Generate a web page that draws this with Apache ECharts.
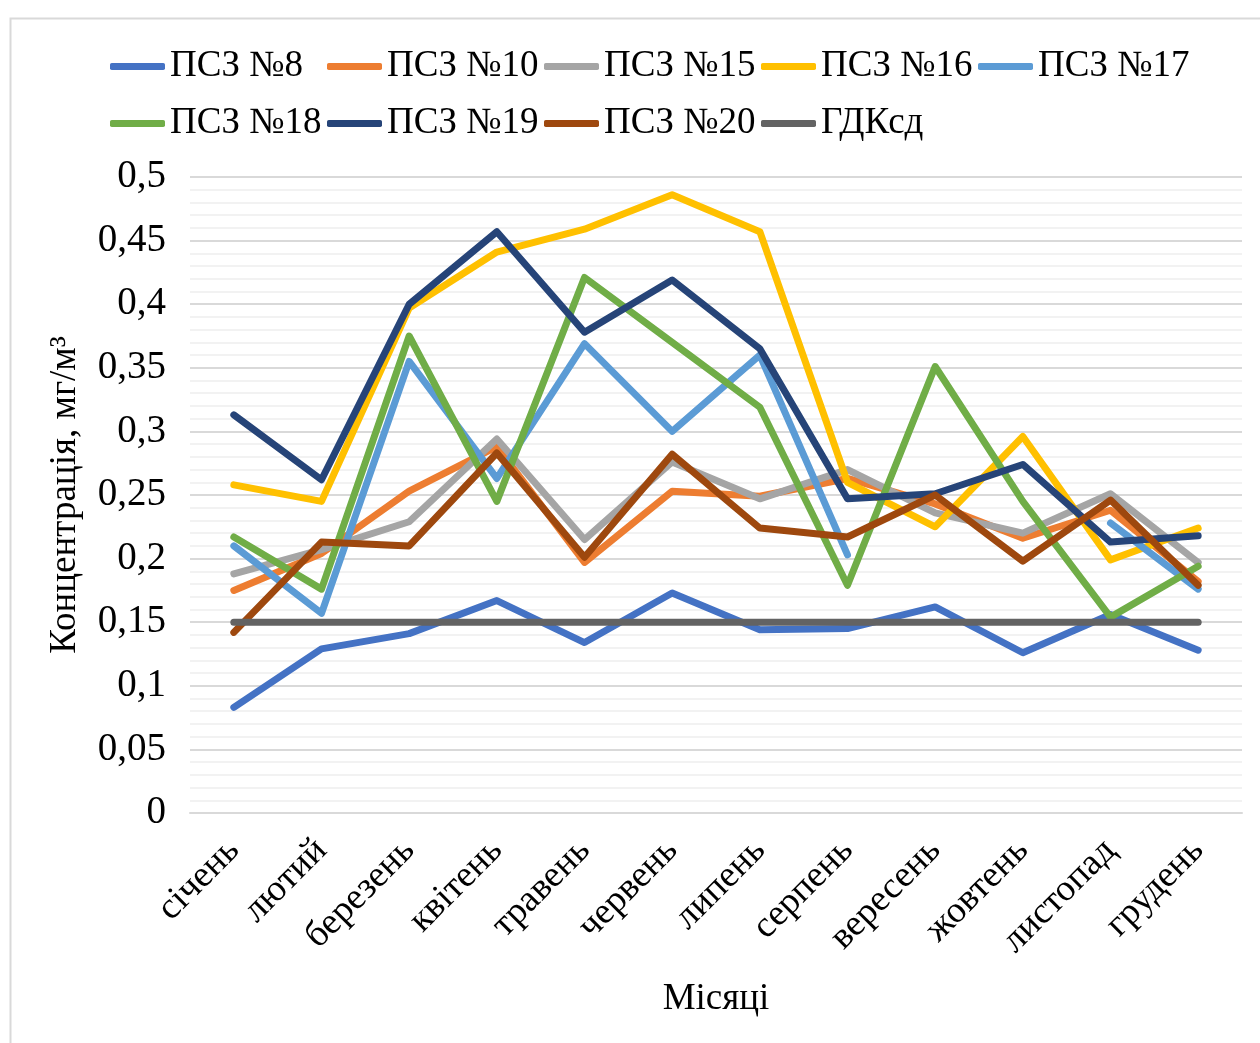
<!DOCTYPE html>
<html>
<head>
<meta charset="utf-8">
<script src="https://cdn.jsdelivr.net/npm/echarts@6/dist/echarts.min.js"></script>
<style>
html,body{margin:0;padding:0;background:#fff;}
#c{width:1260px;height:1043px;}
</style>
</head>
<body>
<div id="c"></div>
<script>
const months = ['січень','лютий','березень','квітень','травень','червень','липень','серпень','вересень','жовтень','листопад','грудень'];
const yTicks = [0,0.05,0.1,0.15,0.2,0.25,0.3,0.35,0.4,0.45,0.5];
const seriesNames = ['ПСЗ №8','ПСЗ №10','ПСЗ №15','ПСЗ №16','ПСЗ №17','ПСЗ №18','ПСЗ №19','ПСЗ №20','ГДКсд'];
const psz8  = [0.083,0.129,0.141,0.167,0.134,0.173,0.144,0.145,0.162,0.126,0.156,0.128];
const psz10 = [0.175,0.204,0.253,0.288,0.197,0.253,0.249,0.263,0.243,0.216,0.238,0.182];
const psz15 = [0.188,0.207,0.229,0.294,0.215,0.276,0.247,0.270,0.236,0.220,0.251,0.197];
const psz16 = [0.258,0.245,0.397,0.441,0.459,0.486,0.457,0.260,0.225,0.296,0.199,0.224];
const psz17 = [0.210,0.157,0.355,0.263,0.369,0.300,0.360,0.203,null,null,0.228,0.176];
const psz18 = [0.217,0.176,0.375,0.245,0.421,0.370,0.319,0.179,0.351,0.245,0.154,0.194];
const psz19 = [0.313,0.262,0.400,0.457,0.378,0.419,0.365,0.247,0.251,0.274,0.213,0.218];
const psz20 = [0.142,0.213,0.210,0.283,0.201,0.282,0.224,0.217,0.250,0.198,0.246,0.179];
const gdk   = [0.15,0.15,0.15,0.15,0.15,0.15,0.15,0.15,0.15,0.15,0.15,0.15];
const seriesData = [psz8,psz10,psz15,psz16,psz17,psz18,psz19,psz20,gdk];
const colors = ['#4472C4','#ED7D31','#A5A5A5','#FFC000','#5B9BD5','#70AD47','#264478','#9E480E','#636363'];

const FONT = '"Liberation Serif","Times New Roman",serif';
const chart = echarts.init(document.getElementById('c'));
const legends = seriesNames.map((n, i) => ({
  data: [n],
  left: 105 + (i % 5) * 217,
  top: i < 5 ? 43 : 100,
  itemWidth: 55, itemHeight: 7, icon: 'roundRect',
  textStyle: {fontFamily: FONT, fontSize: 37, color: '#000'}
}));
chart.setOption({
  backgroundColor: '#fff',
  color: colors,
  animation: false,
  graphic: [{type:'rect', left: 8, top: 16, shape:{width:1270, height:1040}, style:{fill:'none', stroke:'#d9d9d9', lineWidth:2}, silent:true}],
  legend: legends,
  grid: {left: 190, right: 18, top: 177, bottom: 230},
  xAxis: {
    type: 'category', data: months, boundaryGap: true,
    axisLine: {show: true, lineStyle:{color:'#d9d9d9', width:2}},
    axisTick: {show: false},
    axisLabel: {rotate: 45, fontFamily: FONT, fontSize: 37, color: '#000', margin: 32},
    name: 'Місяці', nameLocation: 'middle', nameGap: 168,
    nameTextStyle: {fontFamily: FONT, fontSize: 37, color: '#000'}
  },
  yAxis: {
    type: 'value', min: 0, max: 0.5, interval: 0.05,
    axisLine: {show: false}, axisTick: {show: false},
    axisLabel: {fontFamily: FONT, fontSize: 39, color: '#000', margin: 24,
      formatter: v => String(+v.toFixed(2)).replace('.', ',')},
    splitLine: {show: true, lineStyle: {color: '#d9d9d9', width: 2}},
    minorTick: {show: false, splitNumber: 5},
    minorSplitLine: {show: true, lineStyle: {color: '#f2f2f2', width: 2}},
    name: 'Концентрація, мг/м³', nameLocation: 'middle', nameGap: 106,
    nameTextStyle: {fontFamily: FONT, fontSize: 37, color: '#000'}
  },
  series: seriesNames.map((n, i) => ({
    name: n, type: 'line', data: seriesData[i], showSymbol: false, symbol: 'none',
    connectNulls: false,
    lineStyle: {width: 7, color: colors[i], cap: 'round', join: 'round'},
    itemStyle: {color: colors[i]}
  }))
});
</script>
</body>
</html>
